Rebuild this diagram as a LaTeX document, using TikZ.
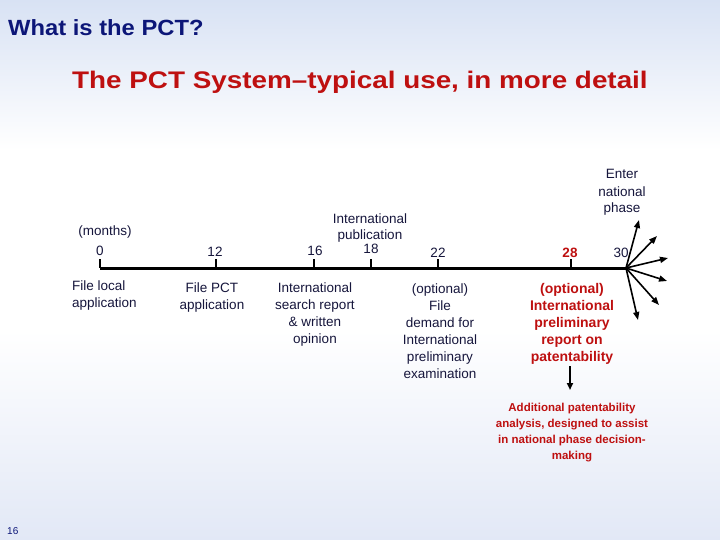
\documentclass[tikz,border=0pt]{standalone}
\usepackage{fontspec}
\setmainfont{Liberation Sans}
\newfontfamily\titlefont[FakeStretch=1.08,Ligatures=TeX]{Liberation Sans}
\newfontfamily\subtitlefont[FakeStretch=1.16,Ligatures=TeX]{Liberation Sans}
\usetikzlibrary{arrows.meta}
\definecolor{navy}{RGB}{12,22,120}
\definecolor{pctred}{RGB}{190,16,16}
\definecolor{body}{RGB}{22,22,60}
\definecolor{bgblue}{RGB}{216,226,244}
\definecolor{bgblue2}{RGB}{226,232,246}
\begin{document}
\begin{tikzpicture}[x=1pt,y=-1pt,
  lbl/.style={inner sep=0pt,text=body,font=\fontsize{13.5}{17}\selectfont,align=center,anchor=base},
  num/.style={inner sep=0pt,text=body,font=\fontsize{13.5}{17}\selectfont,anchor=base},
  redlbl/.style={inner sep=0pt,text=pctred,font=\bfseries\fontsize{14}{17}\selectfont,align=center,anchor=base},
  tick/.style={line width=2.5pt,black},
  fan/.style={line width=1.6pt,black,-{Triangle[length=8pt,width=6pt]}}]
\useasboundingbox (0,0) rectangle (720,540);
\shade[top color=bgblue,bottom color=white] (0,0) rectangle (720,150);
\fill[white] (0,150) rectangle (720,330);
\shade[top color=white,bottom color=bgblue2] (0,330) rectangle (720,540);
% titles
\node[inner sep=0pt,anchor=base west,text=navy,font=\titlefont\bfseries\fontsize{22}{26}\selectfont] (t1) at (8,36) {What is the PCT?};
\node[inner sep=0pt,anchor=base west,text=pctred,font=\subtitlefont\bfseries\fontsize{24}{28}\selectfont] (t2) at (72,89) {The PCT System–typical use, in more detail};
% timeline
\coordinate (s) at (100,268);
\coordinate (e) at (626,268);
\draw[line width=3pt,black] (s) -- (e);
\foreach \x/\n in {100/a,216/b,314/c,371/d,438/f,571/g}{
  \coordinate (k\n) at (\x,259);
  \draw[tick] (k\n) -- (\x,268);
}
% month numbers
\node[lbl] (months) at (105,236) {(months)};
\node[num] (n0) at (100,255) {0};
\node[num] (n12) at (215,256) {12};
\node[num] (n16) at (315,255) {16};
\node[num] (n18) at (371,254) {18};
\node[lbl] (pub) at (370,240) {International\\publication};
\node[num] (n22) at (438,257) {22};
\node[inner sep=0pt,anchor=base,text=pctred,font=\bfseries\fontsize{13.5}{17}\selectfont] (n28) at (570,257) {28};
\node[num] (n30) at (621,257) {30};
\node[lbl] (enter) at (622,213) {Enter\\national\\phase};
% labels below
\node[inner sep=0pt,anchor=base west,text=body,font=\fontsize{13.5}{17}\selectfont,align=left] (l0) at (72,307) {File local\\application};
\node[lbl] (l12) at (212,309) {File PCT\\application};
\node[lbl] (l16) at (315,343) {International\\search report\\\& written\\opinion};
\node[lbl] (l22) at (440,378) {(optional)\\File\\demand for\\International\\preliminary\\examination};
\node[redlbl] (l28) at (572,361) {(optional)\\International\\preliminary\\report on\\patentability};
% fan of arrows
\foreach \ex/\ey in {639/220,657/236,668/258,667/281,659/305,638/320}{
  \draw[fan] (e) -- (\ex,\ey);
}
% down arrow
\coordinate (d1) at (570,366);
\coordinate (d2) at (570,390);
\draw[line width=1.8pt,black,-{Triangle[length=7pt,width=6pt]}] (d1) -- (d2);
\node[inner sep=0pt,anchor=base,text=pctred,font=\bfseries\fontsize{11.5}{16}\selectfont,align=center] (add) at (572,459) {Additional patentability\\analysis, designed to assist\\in national phase decision-\\making};
\node[inner sep=0pt,anchor=base west,text=navy,font=\fontsize{10}{12}\selectfont] (pg) at (7,534) {16};
\end{tikzpicture}
\end{document}
